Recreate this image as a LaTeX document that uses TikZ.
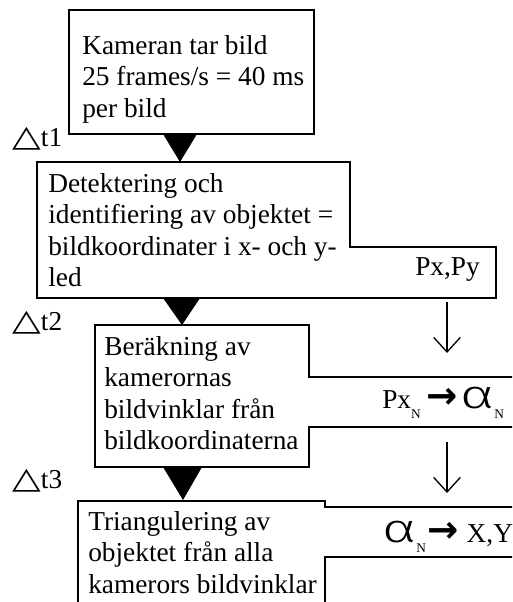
\documentclass[tikz,border=0pt]{standalone}
\usepackage{graphicx}
\usepackage{fontspec}
\setmainfont{Liberation Serif}
\newfontfamily\dejavu{DejaVu Sans}
\newfontfamily\alphafont{Fira Sans}[UprightFont=* Light]
\usetikzlibrary{arrows.meta}
\newcommand{\subN}{\raisebox{-8pt}{\fontsize{10}{10}\selectfont N}}
\newcommand{\alphaglyph}{\scalebox{1.45}[1]{\alphafont\fontsize{30}{30}\selectfont α}}
\newcommand{\boldarrow}{{\dejavu\bfseries\fontsize{28}{28}\selectfont →}}
\newcommand{\deltri}{\scalebox{1}[0.8]{\dejavu\fontsize{28}{28}\selectfont △}}
\tikzset{
  boxline/.style={line width=1pt, draw=black},
  boxtext/.style={anchor=north west, inner sep=0pt, align=left, font=\fontsize{20.5}{23.4}\selectfont},
  lbl/.style={anchor=base west, inner sep=0pt, font=\fontsize{20.5}{23.4}\selectfont},
  flowtri/.style={fill=black},
  downarrow/.style={line width=1pt, -{Straight Barb[length=11pt, width=20pt, line width=1pt]}}
}
\begin{document}
\begin{tikzpicture}[x=0.75pt,y=-0.75pt]
\useasboundingbox (0,0) rectangle (512,602);
\fill[white] (0,0) rectangle (512,602);
\clip (0,0) rectangle (512,602);
% boxes
\draw[boxline] (69,10) rectangle (314,134);
\draw[boxline] (37,162) -- (350,162) -- (350,247) -- (496,247) -- (496,298) -- (37,298) -- cycle;
\draw[boxline] (95,325) -- (309,325) -- (309,377) -- (530,377) -- (530,427) -- (309,427) -- (309,467) -- (95,467) -- cycle;
\draw[boxline] (78,501) -- (325,501) -- (325,507) -- (530,507) -- (530,557) -- (325,557) -- (325,620) -- (78,620) -- cycle;
% box texts
\node[boxtext] (b1) at (82,35.4) {Kameran tar bild\\25 frames/s = 40 ms\\per bild};
\node[boxtext] (b2) at (48,173.4) {Detektering och\\identifiering av objektet =\\bildkoordinater i x- och y-\\led};
\node[boxtext] (b3) at (104,336.4) {Beräkning av\\kamerornas\\bildvinklar från\\bildkoordinaterna};
\node[boxtext] (b4) at (88,511.4) {Triangulering av\\objektet från alla\\kamerors bildvinklar};
% delta labels
\node[lbl] (dt1) at (12,147) {\deltri t1};
\node[lbl] (dt2) at (12,330) {\deltri t2};
\node[lbl] (dt3) at (12,488) {\deltri t3};
% side labels
\node[lbl] (pxpy) at (415,275) {Px,Py};
\node[lbl] (pxa) at (382,408) {Px\subN\hspace{4pt}\boldarrow\hspace{2pt}\alphaglyph\subN};
\node[lbl] (axy) at (382,542) {\alphaglyph\subN\hspace{1pt}\boldarrow\hspace{6pt}X,Y};
% flow triangles
\coordinate (t1l) at (163,134); \coordinate (t1r) at (197,134); \coordinate (t1p) at (180,162);
\coordinate (t2l) at (163,298); \coordinate (t2r) at (200,298); \coordinate (t2p) at (182,325);
\coordinate (t3l) at (163,467); \coordinate (t3r) at (202,467); \coordinate (t3p) at (183,500);
\fill[flowtri] (t1l) -- (t1r) -- (t1p) -- cycle;
\fill[flowtri] (t2l) -- (t2r) -- (t2p) -- cycle;
\fill[flowtri] (t3l) -- (t3r) -- (t3p) -- cycle;
% side arrows
\coordinate (a1s) at (447,302); \coordinate (a1e) at (447,353);
\coordinate (a2s) at (447,442); \coordinate (a2e) at (447,493);
\draw[downarrow] (a1s) -- (a1e);
\draw[downarrow] (a2s) -- (a2e);
\end{tikzpicture}
\end{document}
